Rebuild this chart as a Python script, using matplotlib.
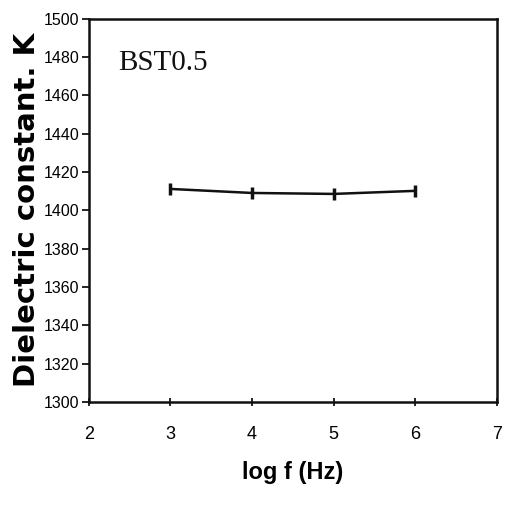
import matplotlib.pyplot as plt

log_f = [3, 4, 5, 6]
dielectric_k = [1411.2, 1409.1, 1408.6, 1410.2]
x_ticks = [2, 3, 4, 5, 6, 7]
y_ticks = [1300, 1320, 1340, 1360, 1380, 1400, 1420, 1440, 1460, 1480, 1500]

sans = ['Liberation Sans', 'DejaVu Sans']

fig = plt.figure(figsize=(5.08, 5.07), dpi=100)
ax = fig.add_axes([0.175, 0.207, 0.803, 0.756])

ax.plot(log_f, dielectric_k, color='#111111', linewidth=1.8,
        marker='|', markersize=9, markeredgewidth=2.5)

ax.set_xlim(2, 7)
ax.set_ylim(1300, 1500)
ax.set_xticks(x_ticks)
ax.set_yticks(y_ticks)
ax.set_xticklabels([str(v) for v in x_ticks], family=sans, fontsize=13)
ax.set_yticklabels([str(v) for v in y_ticks], family=sans, fontsize=11.5)
ax.tick_params(axis='x', direction='inout', length=6, width=1.2, pad=14)
ax.tick_params(axis='y', direction='out', length=5, width=1.2, pad=2)
for s in ax.spines.values():
    s.set_linewidth(1.8)
    s.set_color('#111111')

ax.set_xlabel('log f (Hz)', family=sans, fontsize=17, fontweight='bold', labelpad=13)
ax.set_ylabel('Dielectric constant. K', family='DejaVu Sans', fontsize=21,
              fontweight='bold', labelpad=2)
ax.text(0.071, 0.867, 'BST0.5', transform=ax.transAxes, family='Liberation Serif',
        fontsize=21, color='#111111')

fig.savefig('out.png', dpi=100)
